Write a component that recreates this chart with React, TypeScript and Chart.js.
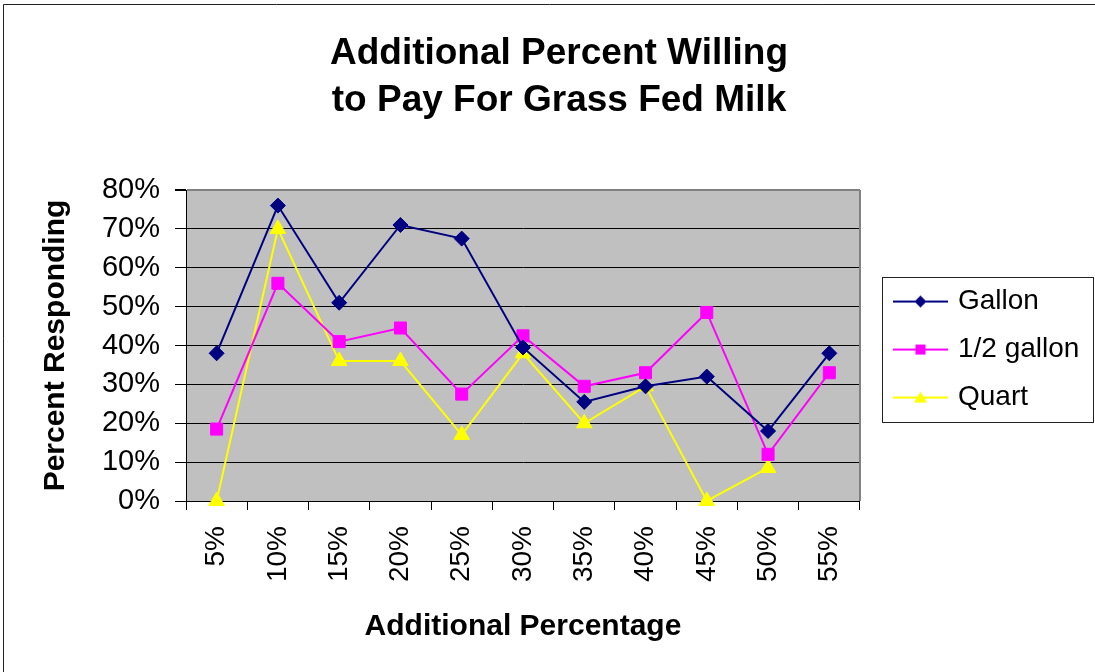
import React, { useEffect, useRef } from 'react';
import { Chart, registerables } from 'chart.js';

Chart.register(...registerables);

// ---------- data ----------
const categories = ['5%', '10%', '15%', '20%', '25%', '30%', '35%', '40%', '45%', '50%', '55%'];
const gallon = [38, 76, 51, 71, 67.5, 39.5, 25.5, 29.5, 32, 18, 38];
const halfGallon = [18.5, 56, 41, 44.5, 27.5, 42.5, 29.5, 33, 48.5, 12, 33];
const quart = [0, 70, 36, 36, 17, 38, 20, 29.5, 0, 8.5, null];

const seriesNames = ['Gallon', '1/2 gallon', 'Quart'];
const seriesColors = ['#000080', '#FF00FF', '#FFFF00'];
const seriesMarkers = ['rectRot', 'rect', 'triangle'];
const seriesRadii = [7.5, 8.5, 9];

const yMin = 0;
const yMax = 80;
const yStep = 10;

const titleLines = ['Additional Percent Willing', 'to Pay For Grass Fed Milk'];
const xTitle = 'Additional Percentage';
const yTitle = 'Percent Responding';

const FONT = '"Liberation Sans", Arial, Helvetica, sans-serif';
const LEGEND_TITLE_H = 8;

function legendSwatch(color: string, marker: string): HTMLCanvasElement {
  const c = document.createElement('canvas');
  c.width = 72;
  c.height = 20;
  const g = c.getContext('2d') as CanvasRenderingContext2D;
  g.strokeStyle = color;
  g.lineWidth = 2;
  g.beginPath();
  g.moveTo(17, 10);
  g.lineTo(72, 10);
  g.stroke();
  g.fillStyle = color;
  const cx = 44.5;
  const cy = 10;
  g.beginPath();
  if (marker === 'rectRot') {
    g.moveTo(cx, cy - 6);
    g.lineTo(cx + 6, cy);
    g.lineTo(cx, cy + 6);
    g.lineTo(cx - 6, cy);
  } else if (marker === 'rect') {
    g.rect(cx - 5, cy - 5, 10, 10);
  } else {
    g.moveTo(cx, cy - 6);
    g.lineTo(cx + 6.5, cy + 5);
    g.lineTo(cx - 6.5, cy + 5);
  }
  g.closePath();
  g.fill();
  return c;
}

const framePlugin = {
  id: 'frame',
  beforeDraw(chart: any) {
    const { ctx, chartArea: a } = chart;
    ctx.save();
    ctx.fillStyle = '#FFFFFF';
    ctx.fillRect(0, 0, chart.width, chart.height);
    ctx.fillStyle = '#C0C0C0';
    ctx.fillRect(a.left, a.top, a.right - a.left, a.bottom - a.top);
    ctx.strokeStyle = '#222';
    ctx.lineWidth = 1;
    ctx.beginPath();
    ctx.moveTo(3.5, chart.height);
    ctx.lineTo(3.5, 4.5);
    ctx.lineTo(chart.width, 4.5);
    ctx.stroke();
    ctx.restore();
  },
  beforeDatasetsDraw(chart: any) {
    const { ctx, chartArea: a } = chart;
    ctx.save();
    ctx.strokeStyle = '#808080';
    ctx.lineWidth = 2;
    ctx.beginPath();
    ctx.moveTo(a.right, a.top);
    ctx.lineTo(a.right, a.bottom);
    ctx.stroke();
    ctx.restore();
  },
  afterDraw(chart: any) {
    const lg = chart.legend;
    if (!lg) return;
    const pad = 20;
    const itemH = 28;
    const n = chart.data.datasets.length;
    const colH = n * (itemH + pad);
    const startY = (lg.top + LEGEND_TITLE_H + pad + lg.bottom - colH) / 2;
    const top = Math.round(startY - 10.5) + 0.5;
    const bottom = Math.round(startY + colH - pad + 10.5) + 0.5;
    const left = Math.round(lg.left + 22) + 0.5;
    const right = chart.width - 1.5;
    const { ctx } = chart;
    ctx.save();
    ctx.strokeStyle = '#222';
    ctx.lineWidth = 1;
    ctx.strokeRect(left, top, right - left, bottom - top);
    ctx.restore();
  },
};

export default function App() {
  const ref = useRef<HTMLCanvasElement | null>(null);

  useEffect(() => {
    if (!ref.current) return;
    const series = [gallon, halfGallon, quart];
    const chart = new Chart(ref.current, {
      type: 'line',
      data: {
        labels: categories,
        datasets: series.map((values, i) => ({
          label: seriesNames[i],
          data: values,
          borderColor: seriesColors[i],
          backgroundColor: seriesColors[i],
          borderWidth: 2,
          tension: 0,
          pointStyle: seriesMarkers[i] as any,
          pointRadius: seriesRadii[i],
          pointHoverRadius: seriesRadii[i],
          pointBackgroundColor: seriesColors[i],
          pointBorderColor: seriesColors[i],
          pointBorderWidth: 1,
          clip: false as any,
          fill: false,
        })),
      },
      options: {
        responsive: false,
        animation: false,
        layout: { padding: { left: 28.6, right: 5.6, top: 0, bottom: 0 } },
        plugins: {
          title: {
            display: true,
            text: titleLines,
            color: '#000',
            font: { family: FONT, size: 37, weight: 'bold', lineHeight: 1.28 },
            padding: { top: 30, bottom: 65.3 },
          },
          legend: {
            position: 'right',
            fullSize: false,
            title: {
              display: true,
              text: '',
              padding: 0,
              font: { family: FONT, size: LEGEND_TITLE_H / 1.2, lineHeight: 1.2 },
            },
            labels: {
              usePointStyle: true,
              pointStyleWidth: 64,
              padding: 20,
              color: '#000',
              font: { family: FONT, size: 28 },
              generateLabels: (ch: any) =>
                ch.data.datasets.map((ds: any, i: number) => ({
                  text: ds.label,
                  fillStyle: seriesColors[i],
                  strokeStyle: seriesColors[i],
                  lineWidth: 0,
                  pointStyle: legendSwatch(seriesColors[i], seriesMarkers[i]),
                  hidden: false,
                  datasetIndex: i,
                  fontColor: '#000',
                })),
            },
          },
          tooltip: { enabled: false },
        },
        scales: {
          x: {
            type: 'category',
            offset: true,
            grid: {
              display: true,
              offset: true,
              drawOnChartArea: false,
              drawTicks: true,
              tickLength: 9,
              color: '#000',
            },
            border: { display: true, color: '#000', width: 1 },
            ticks: {
              minRotation: 90,
              maxRotation: 90,
              autoSkip: false,
              padding: 16,
              color: '#000',
              font: { family: FONT, size: 28 },
            },
            title: {
              display: true,
              text: xTitle,
              color: '#000',
              font: { family: FONT, size: 30, weight: 'bold', lineHeight: 1.2 },
              padding: { top: 0, bottom: 27.5 },
            },
            afterFit: (s: any) => {
              s.height = 171;
            },
          },
          y: {
            min: yMin,
            max: yMax,
            ticks: {
              stepSize: yStep,
              callback: (v: any) => v + '%',
              padding: 15,
              color: '#000',
              font: { family: FONT, size: 29 },
            },
            grid: {
              color: (c: any) => (c.tick && c.tick.value === yMax ? '#808080' : '#000'),
              lineWidth: (c: any) => (c.tick && c.tick.value === yMax ? 2 : 1),
              tickColor: '#000',
              tickLength: 11,
            },
            border: { display: true, color: '#000', width: 1 },
            title: {
              display: true,
              text: yTitle,
              color: '#000',
              font: { family: FONT, size: 30, weight: 'bold', lineHeight: 1.2 },
              padding: { top: 9.2, bottom: 0 },
            },
            afterFit: (s: any) => {
              s.width = 157.4;
            },
          },
        },
      } as any,
      plugins: [framePlugin],
    });
    return () => chart.destroy();
  }, []);

  return (
    <canvas
      ref={ref}
      width={1095}
      height={672}
      style={{ position: 'absolute', left: 0, top: 0, display: 'block' }}
    />
  );
}
